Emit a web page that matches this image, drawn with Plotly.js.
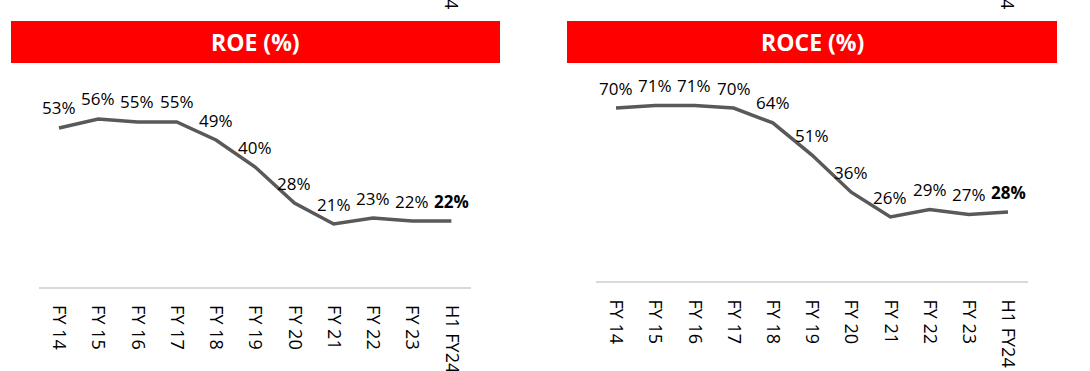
<!DOCTYPE html>
<html>
<head>
<meta charset="utf-8">
<script src="https://cdn.plot.ly/plotly-3.0.1.min.js"></script>
<style>html,body{margin:0;padding:0;background:#fff;}#chart{width:1090px;height:371px;}</style>
</head>
<body>
<div id="chart"></div>
<script>
const categories = ["FY 14","FY 15","FY 16","FY 17","FY 18","FY 19","FY 20","FY 21","FY 22","FY 23","H1 FY24"];
const roeValues = [53,56,55,55,49,40,28,21,23,22,22];
const roceValues = [70,71,71,70,64,51,36,26,29,27,28];
const titles = ["ROE (%)","ROCE (%)"];

const W = 1090, H = 371;
const px = v => v / W;
const py = v => (H - v) / H;

const lineColor = "#595959";
const FONT = "Open Sans, Noto Sans, sans-serif";
const labelFont = {family: FONT, size: 17, color: "#000"};

const traces = [
  {x: categories, y: roeValues, xaxis: "x", yaxis: "y", type: "scatter", mode: "lines",
   line: {color: lineColor, width: 3.5}, hoverinfo: "skip"},
  {x: categories, y: roceValues, xaxis: "x2", yaxis: "y2", type: "scatter", mode: "lines",
   line: {color: lineColor, width: 3.5}, hoverinfo: "skip"}
];

function labels(vals, xr, yr) {
  return vals.map((v, i) => ({
    x: categories[i], y: v, xref: xr, yref: yr, showarrow: false, yshift: 20,
    xanchor: "center", yanchor: "middle",
    text: i === vals.length - 1 ? "<b>" + v + "%</b>" : v + "%",
    font: labelFont
  }));
}

const annotations = [].concat(
  labels(roeValues, "x", "y"),
  labels(roceValues, "x2", "y2"),
  [
    {xref: "paper", yref: "paper", x: px(255.5), y: py(42), xanchor: "center", yanchor: "middle",
     text: "<b>" + titles[0] + "</b>", showarrow: false,
     font: {family: FONT, size: 23, color: "#fff"}},
    {xref: "paper", yref: "paper", x: px(812), y: py(42), xanchor: "center", yanchor: "middle",
     text: "<b>" + titles[1] + "</b>", showarrow: false,
     font: {family: FONT, size: 23, color: "#fff"}},
    {xref: "paper", yref: "paper", x: px(452), y: py(-25), xanchor: "center", yanchor: "middle",
     text: categories[10], showarrow: false, textangle: 90,
     font: {family: FONT, size: 18, color: "#000"}},
    {xref: "paper", yref: "paper", x: px(1008), y: py(-25), xanchor: "center", yanchor: "middle",
     text: categories[10], showarrow: false, textangle: 90,
     font: {family: FONT, size: 18, color: "#000"}}
  ]
);

const shapes = [
  {type: "rect", xref: "paper", yref: "paper", x0: px(11), x1: px(500), y0: py(63), y1: py(21),
   fillcolor: "#ff0000", line: {width: 0}, layer: "below"},
  {type: "rect", xref: "paper", yref: "paper", x0: px(567), x1: px(1057), y0: py(63), y1: py(21),
   fillcolor: "#ff0000", line: {width: 0}, layer: "below"}
];

const xbase = {
  type: "category", showgrid: false, zeroline: false, showline: true, linecolor: "#d9d9d9", linewidth: 1.5,
  ticks: "", tickangle: 90, ticklabelstandoff: 13,
  tickfont: {family: FONT, size: 18, color: "#000"},
  range: [-0.5, 10.5], fixedrange: true
};
const ybase = {visible: false, showgrid: false, zeroline: false, fixedrange: true};

const layout = {
  width: W, height: H,
  margin: {l: 0, r: 0, t: 0, b: 0},
  paper_bgcolor: "#fff", plot_bgcolor: "rgba(0,0,0,0)",
  showlegend: false,
  xaxis: Object.assign({}, xbase, {domain: [px(39.4), px(471)], anchor: "y"}),
  yaxis: Object.assign({}, ybase, {domain: [py(287), py(70)], range: [0, 217 / 3], anchor: "x"}),
  xaxis2: Object.assign({}, xbase, {domain: [px(596.4), px(1027.6)], anchor: "y2"}),
  yaxis2: Object.assign({}, ybase, {domain: [py(281.4), py(70)], range: [0, (281.4 - 70) / 2.477], anchor: "x2"}),
  shapes: shapes,
  annotations: annotations
};

Plotly.newPlot("chart", traces, layout, {displayModeBar: false, staticPlot: true});
</script>
</body>
</html>
